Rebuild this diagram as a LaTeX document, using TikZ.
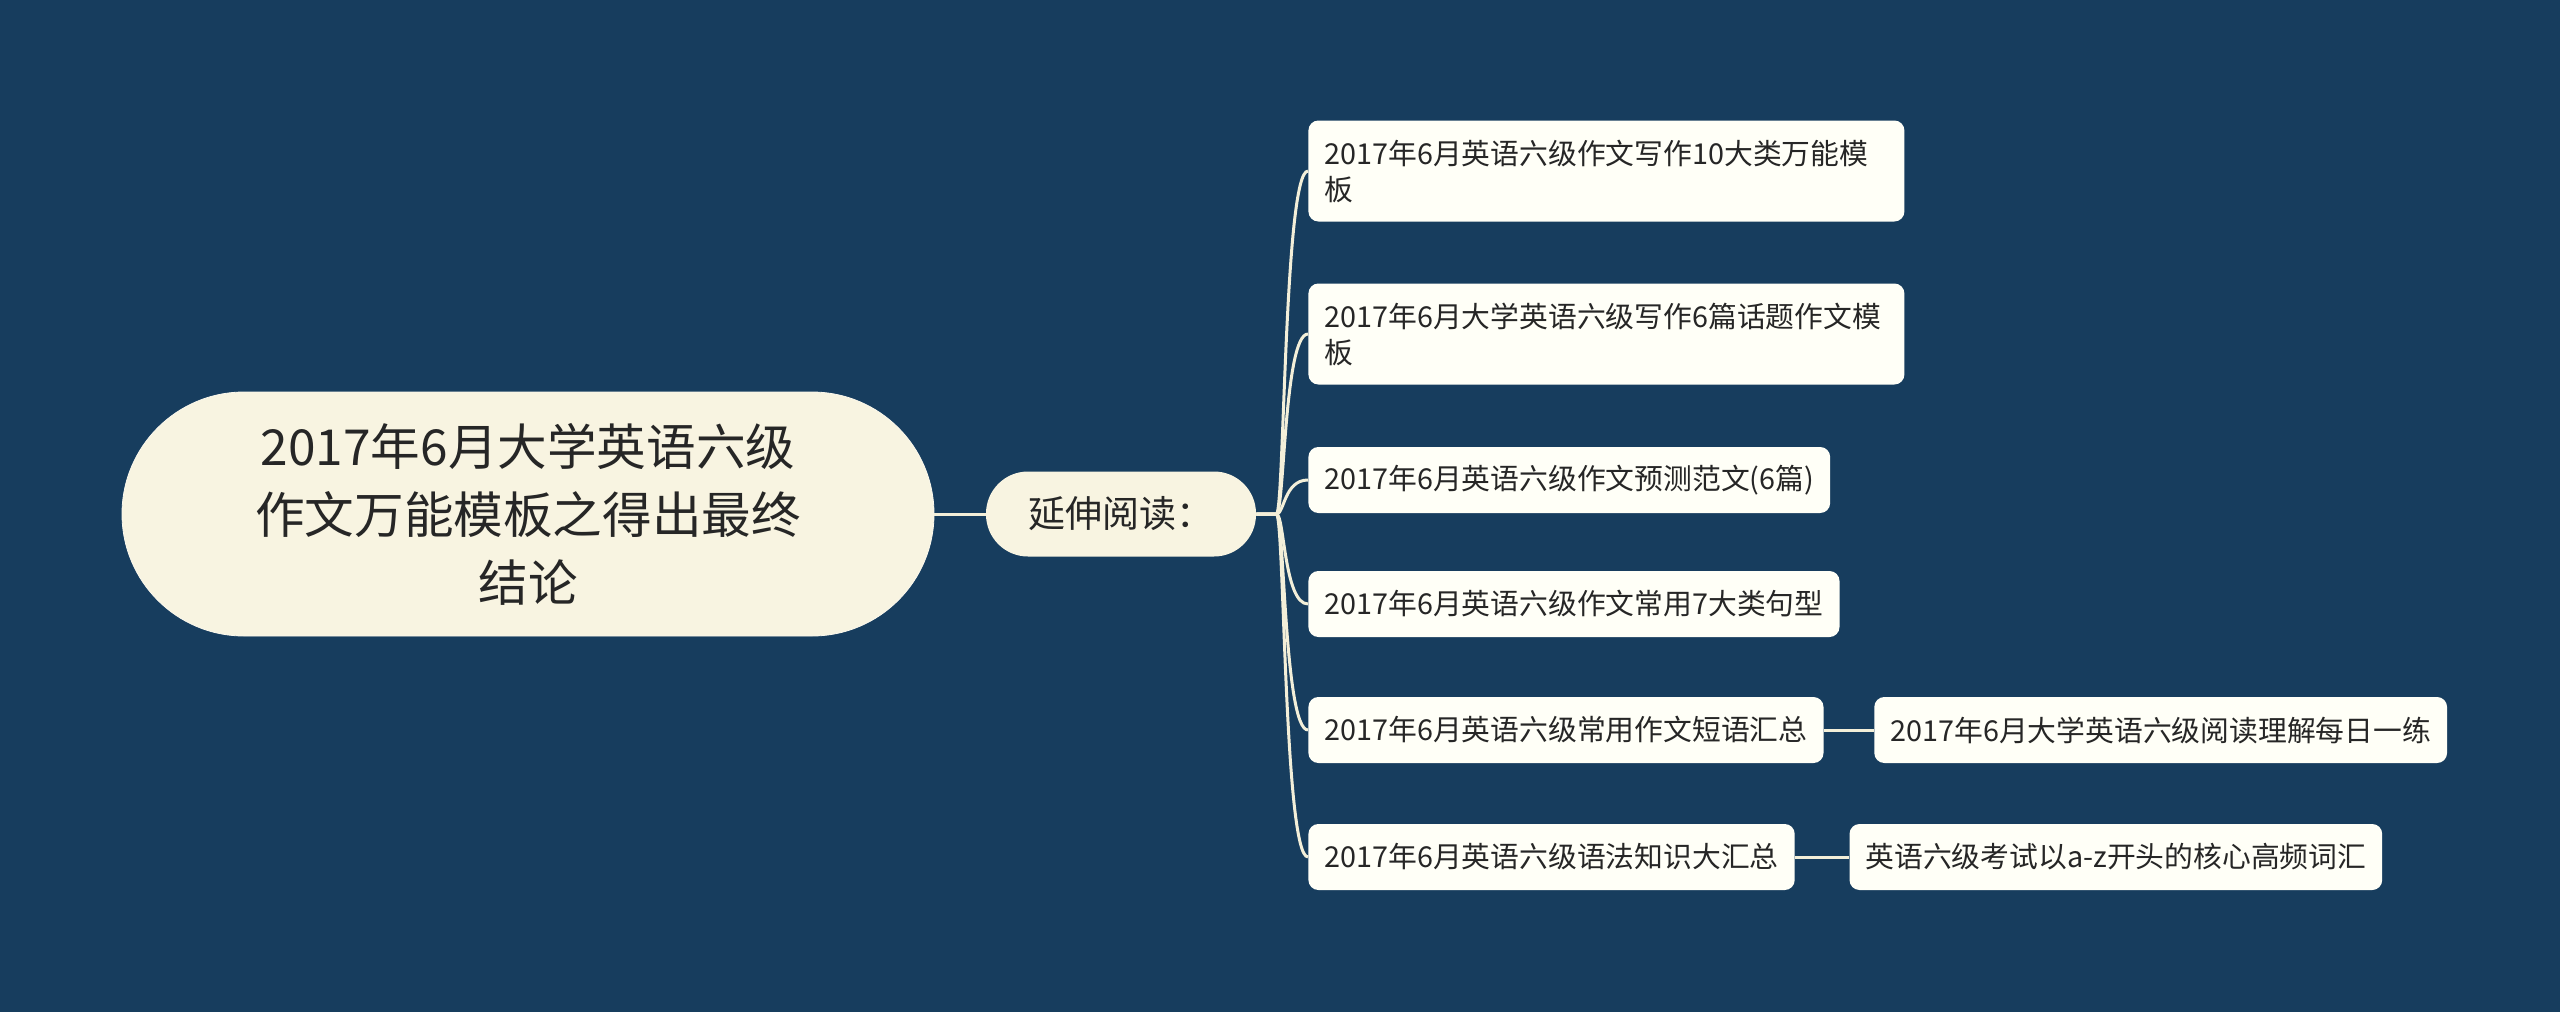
\documentclass[tikz,border=0pt]{standalone}
\usepackage{fontspec}
\newfontfamily\cjk{Noto Sans CJK SC}
\usetikzlibrary{positioning}

\definecolor{bgblue}{HTML}{173D5E}
\definecolor{cream}{HTML}{F8F4E1}
\definecolor{leafwhite}{HTML}{FFFFF7}
\definecolor{linkcol}{HTML}{F3EFD9}
\definecolor{inkgrey}{HTML}{262626}

\tikzset{
  rootbox/.style={fill=cream, draw=cream!60!white, rounded corners=61pt,
    minimum width=406pt, minimum height=122pt, align=center, text=inkgrey,
    font=\cjk\fontsize{24.8}{34}\selectfont},
  hubbox/.style={fill=cream, rounded corners=21pt, minimum width=135pt,
    minimum height=42.5pt, text=inkgrey, font=\cjk\fontsize{18.5}{20}\selectfont},
  leaf/.style={fill=leafwhite, rounded corners=5pt, anchor=west, inner xsep=8pt,
    minimum height=33pt, align=left, text=inkgrey,
    font=\cjk\fontsize{14.4}{18}\selectfont},
  link/.style={draw=linkcol, line width=1.5pt}
}

\begin{document}
\begin{tikzpicture}[x=0.5pt,y=-0.5pt]
    % Background
    \fill[bgblue] (0,0) rectangle (2560,1012);
    \useasboundingbox (0,0) rectangle (2560,1012);
    % Main topic and hub
    \node[rootbox] (topic) at (528,514) {2017年6月大学英语六级\\作文万能模板之得出最终\\结论};
    \node[hubbox] (reading) at (1121,514) {延伸阅读：};
    % Leaves
    \node[leaf, text width=282pt, minimum height=50.5pt] (w1) at (1308,171) {2017年6月英语六级作文写作10大类万能模\\板};
    \node[leaf, text width=282pt, minimum height=50.5pt] (w2) at (1308,334) {2017年6月大学英语六级写作6篇话题作文模\\板};
    \node[leaf] (w3) at (1308,480) {2017年6月英语六级作文预测范文(6篇)};
    \node[leaf] (w4) at (1308,604) {2017年6月英语六级作文常用7大类句型};
    \node[leaf] (w5) at (1308,730) {2017年6月英语六级常用作文短语汇总};
    \node[leaf] (w6) at (1308,857) {2017年6月英语六级语法知识大汇总};
    \node[leaf, right=25pt of w5] (w5x) {2017年6月大学英语六级阅读理解每日一练};
    \node[leaf, right=27pt of w6] (w6x) {英语六级考试以a-z开头的核心高频词汇};
    % Links
    \draw[link] (topic) -- (reading);
    \foreach \i in {1,...,6}
        \draw[link] (reading.east) -- ++(20,0) .. controls +(8,0) and +(-24,0) .. (w\i.west);
    \draw[link] (w5) -- (w5x);
    \draw[link] (w6) -- (w6x);
\end{tikzpicture}
\end{document}
